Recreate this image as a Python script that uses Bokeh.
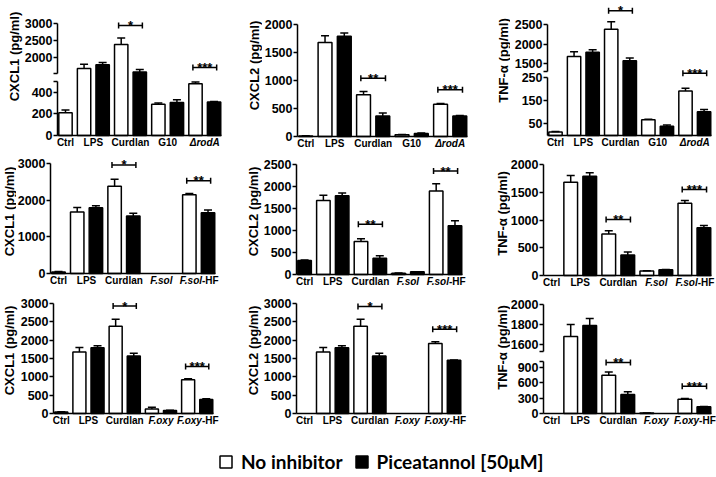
import math
from bokeh.plotting import figure
from bokeh.layouts import row, column
from bokeh.models import Range1d, FixedTicker, Label, Legend, LegendItem, LinearAxis
from bokeh.embed import file_html
from bokeh.resources import INLINE

# ------------------------------------------------------------------ data
GROUPS_ROW1 = ["Ctrl", "LPS", "Curdlan", "G10", "ΔrodA"]
GROUPS_ROW2 = ["Ctrl", "LPS", "Curdlan", "F.sol", "F.sol-HF"]
GROUPS_ROW3 = ["Ctrl", "LPS", "Curdlan", "F.oxy", "F.oxy-HF"]
# italic part of each group label (rest of the label is upright)
ITALIC_PART = {"ΔrodA": "ΔrodA", "F.sol": "F.sol", "F.sol-HF": "F.sol",
               "F.oxy": "F.oxy", "F.oxy-HF": "F.oxy"}

Y_TITLES = ["CXCL1 (pg/ml)", "CXCL2 (pg/ml)", "TNF-α (pg/ml)"]
SERIES = ["No inhibitor", "Piceatannol [50μM]"]

# Ctrl has a single bar: the other series holds None there
CXCL1_R1_NOINH = [210, 1680, 2380, 290, 480]
CXCL1_R1_NOINH_ERR = [25, 125, 190, 12, 15]
CXCL1_R1_PIC = [None, 1790, 1570, 305, 310]
CXCL1_R1_PIC_ERR = [0, 60, 75, 25, 5]
CXCL1_R1_SIG = [(2, 2940, "*"), (4, 1706, "***")]

CXCL2_R1_NOINH = [10, 1680, 745, 30, 575]
CXCL2_R1_NOINH_ERR = [3, 120, 60, 5, 15]
CXCL2_R1_PIC = [None, 1790, 365, 55, 365]
CXCL2_R1_PIC_ERR = [0, 60, 55, 8, 10]
CXCL2_R1_SIG = [(2, 1040, "**"), (4, 834, "***")]

TNF_R1_NOINH = [15, 1680, 2380, 68, 192]
TNF_R1_NOINH_ERR = [2, 120, 190, 2, 12]
TNF_R1_PIC = [None, 1790, 1570, 40, 102]
TNF_R1_PIC_ERR = [0, 60, 70, 5, 10]
TNF_R1_SIG = [(2, 2850, "*"), (4, 1250, "***")]

CXCL1_R2_NOINH = [None, 1680, 2380, None, 2150]
CXCL1_R2_NOINH_ERR = [0, 120, 190, 0, 30]
CXCL1_R2_PIC = [40, 1790, 1570, None, 1660]
CXCL1_R2_PIC_ERR = [15, 60, 70, 0, 70]
CXCL1_R2_SIG = [(2, 2960, "*"), (4, 2530, "**")]

CXCL2_R2_NOINH = [None, 1680, 750, 30, 1900]
CXCL2_R2_NOINH_ERR = [0, 120, 60, 3, 160]
CXCL2_R2_PIC = [320, 1790, 370, 60, 1110]
CXCL2_R2_PIC_ERR = [12, 60, 55, 5, 110]
CXCL2_R2_SIG = [(2, 1140, "**"), (4, 2350, "**")]

TNF_R2_NOINH = [None, 1680, 750, 80, 1300]
TNF_R2_NOINH_ERR = [0, 120, 55, 5, 50]
TNF_R2_PIC = [None, 1790, 370, 105, 860]
TNF_R2_PIC_ERR = [0, 60, 55, 5, 40]
TNF_R2_SIG = [(2, 1010, "**"), (4, 1550, "***")]

CXCL1_R3_NOINH = [None, 1680, 2380, 120, 920]
CXCL1_R3_NOINH_ERR = [0, 120, 190, 50, 25]
CXCL1_R3_PIC = [40, 1790, 1570, 80, 380]
CXCL1_R3_PIC_ERR = [10, 60, 70, 8, 20]
CXCL1_R3_SIG = [(2, 2930, "*"), (4, 1280, "***")]

CXCL2_R3_NOINH = [None, 1680, 2380, None, 1910]
CXCL2_R3_NOINH_ERR = [0, 120, 190, 0, 50]
CXCL2_R3_PIC = [None, 1790, 1570, None, 1450]
CXCL2_R3_PIC_ERR = [0, 60, 70, 0, 10]
CXCL2_R3_SIG = [(2, 2915, "*"), (4, 2300, "***")]

TNF_R3_NOINH = [None, 1680, 750, 10, 280]
TNF_R3_NOINH_ERR = [0, 120, 60, 2, 15]
TNF_R3_PIC = [None, 1790, 370, None, 130]
TNF_R3_PIC_ERR = [0, 70, 55, 0, 8]
TNF_R3_SIG = [(2, 1000, "**"), (4, 535, "***")]

# ------------------------------------------------------------------ layout (page px)
FONT = "Liberation Sans"
ROW_TOP = [0, 151, 290]
ROW_H = [151, 139, 158]
COL_LEFT = [0, 240, 480]
COL_W = [240, 240, 236]
LEGEND_H = 28
X_LO, X_HI = -0.43, 8.40
BAR_W = 0.72
XLAB_SIZE = 10

# main: lower (or only) y segment; upper: upper segment of a broken axis
# each = (two (value, page-y) anchors, axis bounds, ticks, ticks without label)
PANELS = [
    dict(rc=(0, 0), groups=GROUPS_ROW1, title=Y_TITLES[0],
         data=(CXCL1_R1_NOINH, CXCL1_R1_NOINH_ERR, CXCL1_R1_PIC, CXCL1_R1_PIC_ERR, CXCL1_R1_SIG),
         tw=24, tx=14, tyc=56, frame=(57, 221),
         main=(((500, 81), (0, 135)), (0, 500), [0, 200, 400, 500], [500]),
         upper=(((3000, 23), (2000, 57)), (1530, 3000), [1530, 2000, 2500, 3000], [1530])),
    dict(rc=(0, 1), groups=GROUPS_ROW1, title=Y_TITLES[1],
         data=(CXCL2_R1_NOINH, CXCL2_R1_NOINH_ERR, CXCL2_R1_PIC, CXCL2_R1_PIC_ERR, CXCL2_R1_SIG),
         tw=22, tx=14, tyc=65, frame=(297, 467),
         main=(((2000, 24), (0, 136)), (0, 2000), [0, 500, 1000, 1500, 2000], [])),
    dict(rc=(0, 2), groups=GROUPS_ROW1, title=Y_TITLES[2],
         data=(TNF_R1_NOINH, TNF_R1_NOINH_ERR, TNF_R1_PIC, TNF_R1_PIC_ERR, TNF_R1_SIG),
         tw=30, tx=23, tyc=60, frame=(547, 711),
         main=(((250, 77), (0, 135)), (0, 250), [50, 150, 250], []),
         upper=(((2500, 24), (1500, 63)), (1295, 2500), [1295, 1500, 2000, 2500], [1295])),
    dict(rc=(1, 0), groups=GROUPS_ROW2, title=Y_TITLES[0],
         data=(CXCL1_R2_NOINH, CXCL1_R2_NOINH_ERR, CXCL1_R2_PIC, CXCL1_R2_PIC_ERR, CXCL1_R2_SIG),
         tw=16, tx=9, tyc=211, frame=(50, 215),
         main=(((3000, 163), (0, 273)), (0, 3000), [0, 1000, 2000, 3000], [])),
    dict(rc=(1, 1), groups=GROUPS_ROW2, title=Y_TITLES[1],
         data=(CXCL2_R2_NOINH, CXCL2_R2_NOINH_ERR, CXCL2_R2_PIC, CXCL2_R2_PIC_ERR, CXCL2_R2_SIG),
         tw=22, tx=13, tyc=211, frame=(296, 462),
         main=(((2500, 164), (0, 274)), (0, 2500), [0, 500, 1000, 1500, 2000, 2500], [])),
    dict(rc=(1, 2), groups=GROUPS_ROW2, title=Y_TITLES[2],
         data=(TNF_R2_NOINH, TNF_R2_NOINH_ERR, TNF_R2_PIC, TNF_R2_PIC_ERR, TNF_R2_SIG),
         tw=30, tx=22, tyc=213, frame=(543, 711),
         main=(((2000, 164), (0, 275)), (0, 2000), [0, 500, 1000, 1500, 2000], [])),
    dict(rc=(2, 0), groups=GROUPS_ROW3, title=Y_TITLES[0],
         data=(CXCL1_R3_NOINH, CXCL1_R3_NOINH_ERR, CXCL1_R3_PIC, CXCL1_R3_PIC_ERR, CXCL1_R3_SIG),
         tw=19, tx=9, tyc=350, frame=(53, 213),
         main=(((3000, 303), (0, 413)), (0, 3000), [0, 500, 1000, 1500, 2000, 2500, 3000], [])),
    dict(rc=(2, 1), groups=GROUPS_ROW3, title=Y_TITLES[1],
         data=(CXCL2_R3_NOINH, CXCL2_R3_NOINH_ERR, CXCL2_R3_PIC, CXCL2_R3_PIC_ERR, CXCL2_R3_SIG),
         tw=22, tx=13, tyc=350, frame=(296, 461),
         main=(((3000, 303), (0, 413)), (0, 3000), [0, 500, 1000, 1500, 2000, 2500, 3000], [])),
    dict(rc=(2, 2), groups=GROUPS_ROW3, title=Y_TITLES[2],
         data=(TNF_R3_NOINH, TNF_R3_NOINH_ERR, TNF_R3_PIC, TNF_R3_PIC_ERR, TNF_R3_SIG),
         tw=30, tx=22, tyc=347, frame=(543, 711),
         main=(((900, 367), (0, 413)), (0, 1017), [0, 300, 600, 900, 1017], [1017]),
         upper=(((2000, 304), (1600, 344)), (1530, 2000), [1530, 1600, 1800, 2000], [1530])),
]

CHAR_W = {'F': .611, '.': .278, 's': .556, 'o': .611, 'l': .278, 'x': .556,
          'y': .556, '-': .333, 'H': .722}


def text_w(s, size):
    return sum(CHAR_W.get(ch, .6) for ch in s) * size


def lin(anchors):
    (va, pa), (vb, pb) = anchors
    k = (pb - pa) / (vb - va)          # page px per unit
    to_px = lambda v: pa + (v - va) * k
    to_val = lambda px: va + (px - pa) / k
    return to_px, to_val, abs(k)


def bare_figure(**kw):
    p = figure(toolbar_location=None, tools="", output_backend="svg",
               min_border_left=0, min_border_right=0,
               min_border_top=0, min_border_bottom=0, **kw)
    p.outline_line_color = None
    p.background_fill_color = "white"
    p.border_fill_color = "white"
    return p


def make_yaxis(ticks, blanks, bounds, **kw):
    return LinearAxis(
        fixed_location=X_LO, ticker=FixedTicker(ticks=ticks),
        major_label_overrides={t: "" for t in blanks}, bounds=bounds,
        axis_line_width=1.5, axis_line_color="black",
        major_tick_line_width=1.5, major_tick_line_color="black",
        major_tick_out=4, major_tick_in=0, minor_tick_line_color=None,
        major_label_standoff=1, major_label_text_font=FONT,
        major_label_text_font_style="bold", major_label_text_font_size="12.5px",
        major_label_text_color="black", **kw)


def build_panel(spec):
    r, c = spec["rc"]
    col_left, col_w = COL_LEFT[c], COL_W[c]
    row_top, row_h = ROW_TOP[r], ROW_H[r]
    row_bot = row_top + row_h
    tw = spec["tw"]

    tfig = bare_figure(width=tw, height=row_h, x_range=Range1d(0, tw), y_range=Range1d(0, row_h),
                       x_axis_type=None, y_axis_type=None)
    tfig.add_layout(Label(x=spec["tx"], y=row_h - (spec["tyc"] - row_top), text=spec["title"],
                          angle=math.pi / 2, text_align="center", text_baseline="middle",
                          text_font=FONT, text_font_style="bold", text_font_size="13px",
                          text_color="black"))

    body_x0 = col_left + tw
    ax_l, ax_r = spec["frame"]
    ppu = (ax_r - ax_l) / (X_HI - X_LO)
    x_start = X_LO - (ax_l - body_x0) / ppu
    x_end = X_LO + (col_left + col_w - ax_l) / ppu

    anchors, bounds, ticks, blanks = spec["main"]
    to_px, to_val, kpx = lin(anchors)
    p = bare_figure(width=col_w - tw, height=row_h,
                    x_range=Range1d(x_start, x_end),
                    y_range=Range1d(to_val(row_bot), to_val(row_top)),
                    x_axis_type=None, y_axis_type=None)
    p.add_layout(make_yaxis(ticks, blanks, bounds), "left")
    main_top = bounds[1]
    zero_px = to_px(0)

    has_upper = "upper" in spec
    base = {"default": 0}
    if has_upper:
        u_anchors, u_bounds, u_ticks, u_blanks = spec["upper"]
        u_px, u_val, _ = lin(u_anchors)
        p.extra_y_ranges = {"upper": Range1d(u_val(row_bot), u_val(row_top))}
        p.add_layout(make_yaxis(u_ticks, u_blanks, u_bounds, y_range_name="upper"), "left")
        base["upper"] = u_val(zero_px)   # upper-scale value sitting on the x axis

    def rng(v):
        return "upper" if (has_upper and v > main_top) else "default"

    noinh, noinh_err, pic, pic_err, sig = spec["data"]
    for vals, errs, fill, is_white in ((noinh, noinh_err, "white", True),
                                       (pic, pic_err, "black", False)):
        for rname in ("default", "upper"):
            xs, tops, ups = [], [], []
            for g, v in enumerate(vals):
                if v is None or rng(v) != rname:
                    continue
                xs.append(0 if g == 0 else (2 * g - 1 if is_white else 2 * g))
                tops.append(v)
                ups.append(v + errs[g])
            if not xs:
                continue
            p.vbar(x=xs, top=tops, bottom=base[rname], width=BAR_W, fill_color=fill,
                   line_color="black", line_width=1.5, y_range_name=rname)
            p.segment(x0=xs, y0=tops, x1=xs, y1=ups, line_color="black", line_width=1.5,
                      y_range_name=rname)
            p.scatter(x=xs, y=ups, marker="dash", size=8, line_color="black", line_width=1.5,
                      y_range_name=rname)

    # x axis along zero
    xa = LinearAxis(fixed_location=0, ticker=FixedTicker(ticks=[]), bounds=(X_LO, X_HI),
                    axis_line_width=1.5, axis_line_color="black",
                    major_tick_line_color=None, minor_tick_line_color=None,
                    major_label_text_font_size="0px")
    p.add_layout(xa, "below")

    # group labels under the axis
    ylab = 0 - 1.5 / kpx
    for g, name in enumerate(spec["groups"]):
        xc = 0 if g == 0 else 2 * g - 0.5
        ital = ITALIC_PART.get(name)
        common = dict(y=ylab, text_baseline="top", text_font=FONT,
                      text_font_size=f"{XLAB_SIZE}px", text_color="black")
        if ital is None:
            p.add_layout(Label(x=xc, text=name, text_align="center",
                               text_font_style="bold", **common))
        elif ital == name:
            p.add_layout(Label(x=xc, text=name, text_align="center",
                               text_font_style="bold italic", **common))
        else:
            rest = name[len(ital):]
            off = text_w(ital, XLAB_SIZE) - text_w(name, XLAB_SIZE) / 2
            p.add_layout(Label(x=xc, x_offset=off, text=ital, text_align="right",
                               text_font_style="bold italic", **common))
            p.add_layout(Label(x=xc, x_offset=off, text=rest, text_align="left",
                               text_font_style="bold", **common))

    # significance brackets
    for g, yv, stars in sig:
        rname = rng(yv)
        xa_, xb_ = 2 * g - 1 - 0.14, 2 * g + 0.14
        p.segment(x0=[xa_], y0=[yv], x1=[xb_], y1=[yv], line_color="black", line_width=1.5,
                  y_range_name=rname)
        p.scatter(x=[xa_, xb_], y=[yv, yv], marker="dash", angle=math.pi / 2, size=6,
                  line_color="black", line_width=1.5, y_range_name=rname)
        p.add_layout(Label(x=(xa_ + xb_) / 2, y=yv, y_range_name=rname, text=stars,
                           text_align="center", text_baseline="alphabetic", text_font=FONT,
                           text_font_style="bold", text_font_size="13px", text_color="black"))

    return row(tfig, p, spacing=0)


panels = [build_panel(s) for s in PANELS]
rows = [row(*panels[i * 3:(i + 1) * 3], spacing=0) for i in range(3)]

# legend strip (legend renderers carry one non-drawable point)
leg = bare_figure(width=sum(COL_W), height=LEGEND_H, x_range=Range1d(0, 1), y_range=Range1d(0, 1),
                  x_axis_type=None, y_axis_type=None)
r_w = leg.vbar(x=[float("nan")], top=[float("nan")], bottom=[float("nan")], width=0.1,
               fill_color="white", line_color="black", line_width=1.5)
r_b = leg.vbar(x=[float("nan")], top=[float("nan")], bottom=[float("nan")], width=0.1,
               fill_color="black", line_color="black", line_width=1.5)
legend = Legend(items=[LegendItem(label=SERIES[0], renderers=[r_w]),
                       LegendItem(label=SERIES[1], renderers=[r_b])],
                orientation="horizontal", location=(218, 3),
                glyph_width=15, glyph_height=15, label_height=15,
                label_text_font="Lato", label_text_font_style="bold",
                label_text_font_size="19px", label_text_color="black",
                label_standoff=8, spacing=11, padding=0, margin=0,
                border_line_color=None, background_fill_alpha=0)
leg.add_layout(legend)

layout = column(*rows, leg, spacing=0)
open("out.html", "w").write(file_html(layout, INLINE))
